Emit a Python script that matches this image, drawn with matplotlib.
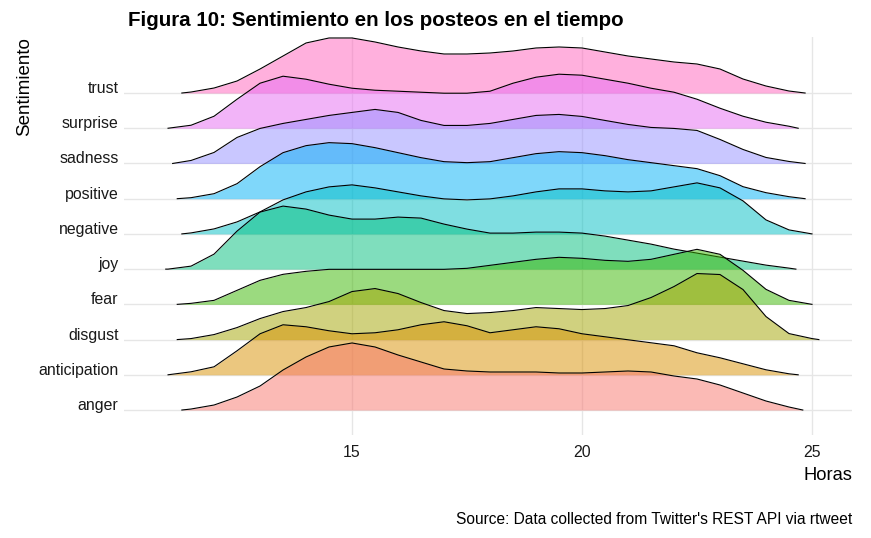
import numpy as np
import matplotlib.pyplot as plt

plt.rcParams['font.family'] = ['Liberation Sans', 'DejaVu Sans']

# categories, bottom to top
sentiments = ['anger', 'anticipation', 'disgust', 'fear', 'joy',
              'negative', 'positive', 'sadness', 'surprise', 'trust']
colors = ['#F8766D', '#D89000', '#A3A500', '#39B600', '#00BF7D',
          '#00BFC4', '#00B0F6', '#9590FF', '#E76BF3', '#FF62BC']

# ridge heights, at every half hour (nan = outside range)
hours = np.arange(11, 25.5, 0.5)
start_hour = [11.3, 11.0, 11.2, 11.2, 10.95, 11.3, 11.2, 11.1, 11.0, 11.3]
end_hour = [24.8, 24.7, 25.15, 25.0, 24.65, 25.0, 24.85, 24.85, 24.7, 24.85]
n = np.nan
anger = [n, 1, 5, 13, 24, 40, 53, 63, 67, 63, 55, 48, 41, 39, 38, 38, 38, 37, 37, 38, 39, 38, 34, 31, 25, 17, 9, 3, n]
anticipation = [n, 3, 8, 24, 41, 50, 48, 44, 41, 42, 45, 50, 53, 49, 42, 45, 48, 46, 41, 38, 35, 32, 29, 22, 17, 11, 5, 1, n]
disgust = [n, 1, 5, 12, 21, 28, 32, 38, 48, 51, 46, 37, 29, 26, 27, 29, 32, 31, 30, 31, 34, 42, 53, 66, 65, 50, 23, 6, 1]
fear = [n, 1, 4, 14, 24, 30, 33, 35, 35, 35, 35, 35, 35, 36, 39, 42, 45, 47, 46, 44, 43, 45, 50, 55, 50, 34, 15, 4, n]
joy = [0, 3, 15, 38, 57, 63, 60, 54, 50, 50, 52, 51, 45, 40, 36, 36, 37, 37, 36, 33, 29, 25, 20, 16, 12, 8, 4, 1, n]
negative = [n, 1, 5, 12, 22, 34, 42, 47, 49, 46, 42, 38, 35, 34, 35, 38, 42, 45, 45, 43, 42, 43, 47, 51, 46, 33, 14, 4, n]
positive = [n, 1, 5, 15, 32, 46, 53, 56, 55, 51, 46, 41, 37, 36, 37, 41, 45, 47, 46, 43, 39, 36, 33, 30, 23, 12, 6, 2, n]
sadness = [n, 3, 11, 26, 35, 40, 44, 48, 51, 54, 51, 43, 38, 38, 40, 44, 48, 49, 47, 43, 39, 36, 35, 33, 24, 14, 6, 2, n]
surprise = [n, 3, 12, 29, 45, 52, 49, 44, 40, 38, 37, 36, 35, 35, 37, 45, 51, 54, 53, 49, 45, 40, 36, 29, 20, 12, 6, 2, n]
trust = [n, 1, 5, 12, 24, 37, 50, 55, 55, 51, 46, 42, 39, 39, 40, 42, 45, 46, 45, 41, 37, 34, 31, 29, 24, 14, 7, 2, n]
heights = [anger, anticipation, disgust, fear, joy, negative, positive, sadness, surprise, trust]

scale = 1 / 35.2

fig = plt.figure(figsize=(8.71, 5.38), dpi=100)
ax = fig.add_axes([0.1424, 0.1914, 0.8358, 0.7398])

for i in range(len(sentiments)):
    h = np.array(heights[i], dtype=float)
    keep = (hours > start_hour[i]) & (hours < end_hour[i]) & ~np.isnan(h)
    x = np.concatenate([[start_hour[i]], hours[keep], [end_hour[i]]])
    y = np.concatenate([[0], h[keep], [0]]) * scale
    base = i + 1
    z = 2 * (len(sentiments) - i) + 2
    ax.fill_between(x, base, base + y, color=colors[i], alpha=0.5, lw=0, zorder=z)
    ax.plot(x, base + y, color='black', lw=0.8, zorder=z + 1, solid_joinstyle='round')

ax.set_xlim(10.043, 25.87)
ax.set_ylim(0.29, 11.59)
ax.set_xticks([15, 20, 25])
ax.set_yticks(range(1, len(sentiments) + 1))
ax.set_yticklabels(sentiments)
for lab in ax.get_yticklabels():
    lab.set_verticalalignment('baseline')
ax.tick_params(length=0, labelsize=11.4, colors='#1a1a1a')
ax.tick_params(axis='x', pad=7)
ax.tick_params(axis='y', pad=4)
ax.grid(True, color='#E6E6E6', lw=1.0, zorder=0)
ax.set_axisbelow(True)
for s in ax.spines.values():
    s.set_visible(False)

fig.text(128 / 871, 1 - 20 / 538, 'Figura 10: Sentimiento en los posteos en el tiempo',
         fontsize=14.8, fontweight='bold', va='center', ha='left')
fig.text(25 / 871, 1 - 37 / 538, 'Sentimiento', fontsize=13.5, rotation=90,
         va='top', ha='center')
fig.text(852 / 871, 1 - 475 / 538, 'Horas', fontsize=13.2, va='center', ha='right')
fig.text(852 / 871, 1 - 520 / 538, "Source: Data collected from Twitter's REST API via rtweet",
         fontsize=11.2, va='center', ha='right')

fig.savefig('out.png', dpi=100)
